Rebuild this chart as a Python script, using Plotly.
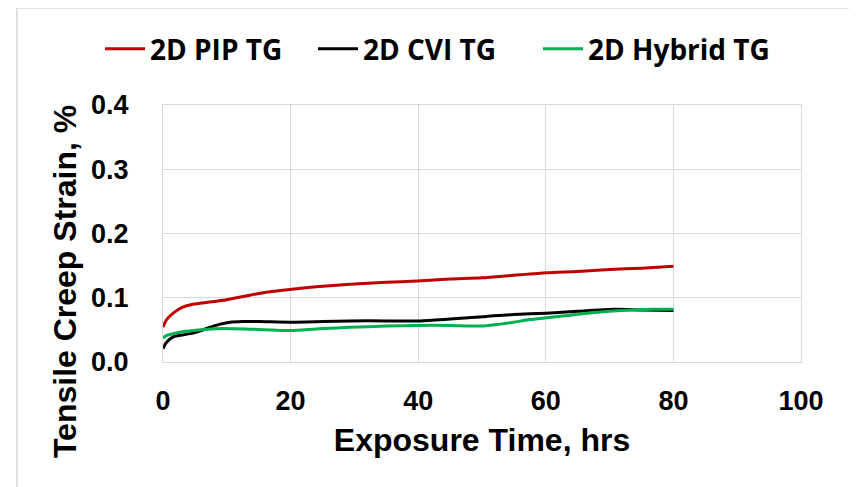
import plotly.graph_objects as go

# Exposure time (hrs) and tensile creep strain (%)
pip_time = [0, 0.5, 1.6, 3, 4.7, 7, 9.4, 11.5, 13.6, 16.5, 19.9, 24, 29.3, 35, 39.8, 45, 50, 55, 60.1, 65, 70, 75, 80]
pip_strain = [0.054, 0.065, 0.076, 0.085, 0.090, 0.093, 0.096, 0.100, 0.104, 0.109, 0.113, 0.117, 0.121, 0.124, 0.126, 0.129, 0.131, 0.135, 0.139, 0.141, 0.144, 0.146, 0.149]

cvi_time = [0, 0.5, 1.6, 3, 4.7, 6, 7.3, 9, 10.5, 12.5, 15, 19.9, 25, 29.3, 35, 40.3, 45, 50.7, 55, 60.1, 65, 70.6, 75, 80]
cvi_strain = [0.021, 0.030, 0.039, 0.042, 0.045, 0.049, 0.054, 0.059, 0.062, 0.063, 0.063, 0.062, 0.063, 0.064, 0.064, 0.064, 0.067, 0.071, 0.074, 0.076, 0.079, 0.082, 0.081, 0.080]

hyb_time = [0, 0.5, 1.6, 3, 4.7, 7, 9.4, 14, 19.9, 25, 29.3, 35, 39.8, 45, 49.7, 52, 54.9, 57.5, 60.1, 63, 66.4, 70, 73.7, 77, 80]
hyb_strain = [0.037, 0.041, 0.044, 0.047, 0.049, 0.051, 0.052, 0.051, 0.049, 0.052, 0.054, 0.056, 0.057, 0.057, 0.056, 0.058, 0.062, 0.066, 0.069, 0.072, 0.076, 0.079, 0.081, 0.082, 0.082]

series_names = ["2D PIP TG", "2D CVI TG", "2D Hybrid TG"]
series_colors = ["#c00000", "#000000", "#00b050"]

x_ticks = [0, 20, 40, 60, 80, 100]
y_ticks = [0.0, 0.1, 0.2, 0.3, 0.4]
y_tick_text = ["0.0", "0.1", "0.2", "0.3", "0.4"]

legend_ids = ["legend", "legend2", "legend3"]
legend_x = [-0.0987, 0.2351, 0.5878]

fig = go.Figure()
for t, s, name, color, lg in zip([pip_time, cvi_time, hyb_time],
                                 [pip_strain, cvi_strain, hyb_strain],
                                 series_names, series_colors, legend_ids):
    fig.add_trace(go.Scatter(x=t, y=s, mode="lines", name=name, legend=lg,
                             line=dict(color=color, width=3, shape="spline", smoothing=0.6)))

tick_font = dict(family="Liberation Sans, Arial, sans-serif", size=27, color="#000000")
title_font = dict(family="Liberation Sans, Arial, sans-serif", size=32, color="#000000")
legend_font = dict(family="Open Sans, sans-serif", size=28, color="#000000", weight="bold")

legend_layouts = {}
for lg, lx in zip(legend_ids, legend_x):
    legend_layouts[lg] = dict(orientation="h", x=lx, y=1.218, xanchor="left", yanchor="middle",
                              font=legend_font, itemwidth=40, bgcolor="rgba(0,0,0,0)")

# the page body adds an 8px offset, so the figure is 8px smaller and margins shifted
fig.update_layout(
    width=849, height=479,
    margin=dict(l=155, r=56, t=97, b=125, autoexpand=False),
    paper_bgcolor="white", plot_bgcolor="white",
    showlegend=True,
    **legend_layouts,
    xaxis=dict(range=[0, 100], tickvals=x_ticks, ticktext=[str(v) for v in x_ticks],
               showgrid=True, gridcolor="#d9d9d9", gridwidth=1,
               showline=True, linecolor="#d9d9d9", linewidth=1, mirror=True,
               zeroline=False, ticks="", ticklabelstandoff=15,
               tickfont=dict(**tick_font, weight="bold"),
               title=dict(text="<b>Exposure Time, hrs</b>", font=title_font, standoff=13)),
    yaxis=dict(range=[0, 0.4], tickvals=y_ticks, ticktext=y_tick_text,
               showgrid=True, gridcolor="#d9d9d9", gridwidth=1,
               showline=True, linecolor="#d9d9d9", linewidth=1, mirror=True,
               zeroline=False, ticks="", ticklabelstandoff=28,
               tickfont=dict(**tick_font, weight="bold")),
)

# y-axis title (sits lower than the plot centre in the reference)
fig.add_annotation(text="<b>Tensile Creep Strain, %</b>", xref="paper", yref="paper",
                   x=-0.1536, y=0.311, xanchor="center", yanchor="middle",
                   textangle=-90, showarrow=False, font=title_font)

# outer chart frame
fig.add_shape(type="rect", xref="paper", yref="paper",
              x0=-0.229, x1=1.0815, y0=-0.6, y1=1.377,
              line=dict(color="#d9d9d9", width=1.5), fillcolor="rgba(0,0,0,0)", layer="below")

fig.write_html("out.html")
